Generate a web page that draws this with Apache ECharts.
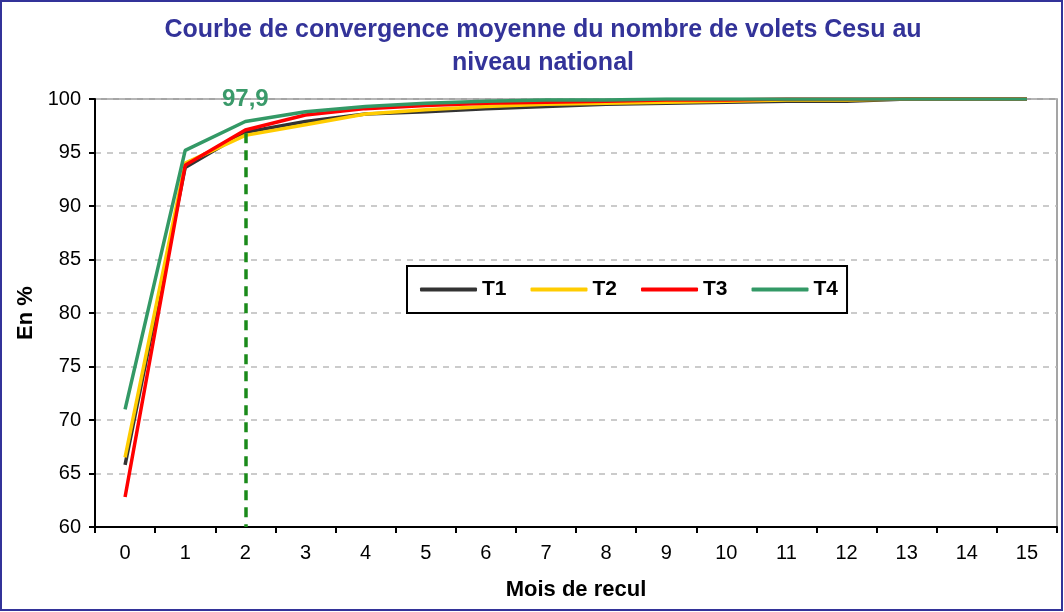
<!DOCTYPE html>
<html>
<head>
<meta charset="utf-8">
<script src="https://cdn.jsdelivr.net/npm/echarts@6/dist/echarts.min.js"></script>
<style>
  html, body { margin: 0; padding: 0; background: #fff; }
  #chart { width: 1064px; height: 612px; }
</style>
</head>
<body>
<div id="chart"></div>
<script>
var months = ['0', '1', '2', '3', '4', '5', '6', '7', '8', '9', '10', '11', '12', '13', '14', '15'];
var t1 = [65.8, 93.6, 96.9, 97.9, 98.6, 98.8, 99.1, 99.3, 99.5, 99.6, 99.7, 99.8, 99.8, 100, 100, 100];
var t2 = [66.5, 94.0, 96.6, 97.6, 98.6, 99.0, 99.3, 99.5, 99.6, 99.7, 99.8, 99.9, 99.9, 100, 100, 100];
var t3 = [62.8, 93.8, 97.1, 98.5, 99.1, 99.4, 99.6, 99.7, 99.8, 99.9, 99.9, 100, 100, 100, 100, 100];
var t4 = [71.0, 95.2, 97.9, 98.8, 99.3, 99.6, 99.8, 99.9, 99.9, 100, 100, 100, 100, 100, 100, 100];
var highlightIdx = 2;
var highlightLabel = '97,9';

var font = 'Liberation Sans, Arial, sans-serif';

function lineSeries(name, data, color) {
	return {
		name: name,
		type: 'line',
		data: data,
		symbol: 'none',
		z: 3,
		lineStyle: { color: color, width: 3.5 },
		itemStyle: { color: color }
	};
}

var s4 = lineSeries('T4', t4, '#339966');
// étiquette verte au mois 2
s4.markPoint = {
	silent: true,
	symbol: 'circle',
	symbolSize: 0,
	data: [{
		coord: [highlightIdx, t4[highlightIdx]],
		label: {
			show: true,
			position: 'top',
			distance: 10,
			formatter: highlightLabel,
			color: '#3a9a6a',
			fontSize: 24,
			fontWeight: 'bold',
			fontFamily: font
		}
	}]
};
// ligne verticale pointillée
var s3 = lineSeries('T3', t3, '#FF0000');
s3.markLine = {
	silent: true,
	symbol: 'none',
	label: { show: false },
	lineStyle: { color: '#1a8a1a', width: 3.5, type: [10, 7] },
	data: [[{ coord: [highlightIdx, 96.8] }, { coord: [highlightIdx, 60] }]]
};

var option = {
	animation: false,
	backgroundColor: '#fff',
	textStyle: { fontFamily: font },
	title: {
		text: 'Courbe de convergence moyenne du nombre de volets Cesu au\nniveau national',
		left: 538,
		textAlign: 'center',
		top: 9,
		textStyle: {
			color: '#333399',
			fontSize: 25,
			fontWeight: 'bold',
			lineHeight: 33,
			fontFamily: font
		}
	},
	graphic: [{
		type: 'rect',
		shape: { x: 1, y: 1, width: 1061, height: 609 },
		style: { fill: 'none', stroke: '#333399', lineWidth: 2 },
		silent: true
	}],
	legend: {
		data: ['T1', 'T2', 'T3', 'T4'],
		left: 407,
		top: 266,
		orient: 'horizontal',
		padding: [13, 9, 13, 13],
		icon: 'roundRect',
		itemWidth: 57,
		itemHeight: 4,
		itemGap: 24,
		borderColor: '#000',
		borderWidth: 2,
		backgroundColor: '#fff',
		textStyle: { fontSize: 21, fontWeight: 'bold', color: '#000', fontFamily: font }
	},
	grid: {
		left: 95,
		right: 7,
		top: 99,
		bottom: 85,
		show: true,
		borderColor: '#888',
		borderWidth: 1.5
	},
	xAxis: {
		type: 'category',
		data: months,
		boundaryGap: true,
		name: 'Mois de recul',
		nameLocation: 'middle',
		nameGap: 52,
		nameTextStyle: { fontSize: 22, fontWeight: 'bold', color: '#000' },
		axisLine: { lineStyle: { color: '#000', width: 2 } },
		axisTick: { show: true, length: 6, lineStyle: { color: '#000', width: 2 } },
		axisLabel: { fontSize: 20, color: '#000', margin: 16 }
	},
	yAxis: {
		type: 'value',
		min: 60,
		max: 100,
		interval: 5,
		name: 'En %',
		nameLocation: 'middle',
		nameGap: 56,
		nameRotate: 90,
		nameTextStyle: { fontSize: 22, fontWeight: 'bold', color: '#000' },
		axisLine: { show: true, lineStyle: { color: '#000', width: 2 } },
		axisTick: { show: true, length: 6, lineStyle: { color: '#000', width: 2 } },
		axisLabel: { fontSize: 20, color: '#000', margin: 14 },
		splitLine: { lineStyle: { color: '#bbb', type: [6, 6], width: 1.5 } }
	},
	series: [
		lineSeries('T1', t1, '#333333'),
		lineSeries('T2', t2, '#FFCC00'),
		s3,
		s4
	]
};

var myChart = echarts.init(document.getElementById('chart'));
myChart.setOption(option);
</script>
</body>
</html>
